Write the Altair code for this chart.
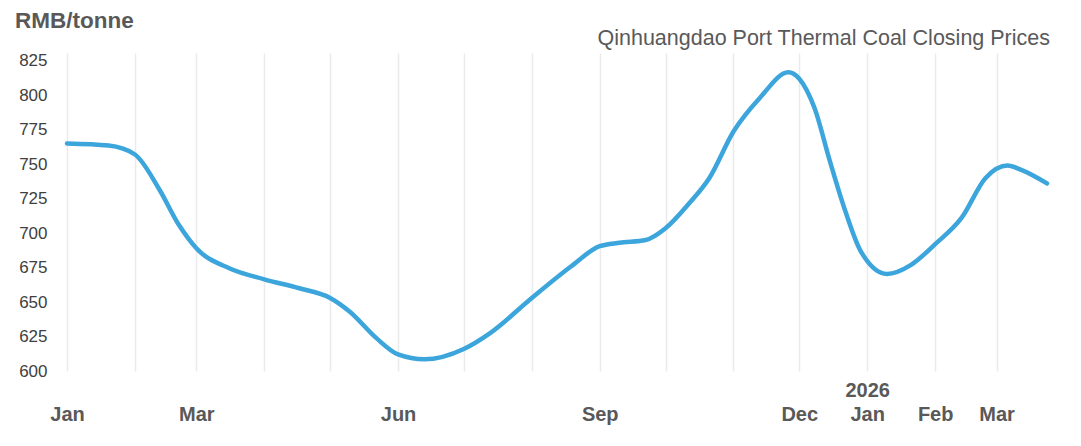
import altair as alt
import pandas as pd

# ---- data ----
dates = ["2025-01-01", "2025-01-20", "2025-02-01", "2025-02-12", "2025-02-21",
         "2025-03-01", "2025-03-16", "2025-04-01", "2025-04-17", "2025-05-01",
         "2025-05-10", "2025-05-22", "2025-06-01", "2025-06-13", "2025-07-01",
         "2025-07-13", "2025-08-01", "2025-08-19", "2025-09-01", "2025-09-10",
         "2025-09-22", "2025-10-01", "2025-10-12", "2025-10-21", "2025-11-01",
         "2025-11-13", "2025-11-26", "2025-12-01", "2025-12-08", "2025-12-15",
         "2025-12-22", "2025-12-29", "2026-01-10", "2026-01-21", "2026-02-01",
         "2026-02-13", "2026-02-24", "2026-03-06", "2026-03-12", "2026-03-24"]
prices = [765, 763.5, 757, 732, 706,
          689, 674.5, 666.5, 660, 653,
          643, 624, 612, 608.5, 616,
          627.5, 653, 676, 690.5, 693,
          695, 703.5, 722, 740, 773.7,
          798, 816.6, 812, 790.5, 752,
          716, 687, 670.4, 677, 692,
          711, 740, 749, 746, 736]

# month ticks (gridlines) and their labels
tick_years = [2025] * 12 + [2026] * 3
tick_months = list(range(1, 13)) + [1, 2, 3]
month_labels = ["Jan", "", "Mar", "", "", "Jun", "", "", "Sep", "", "", "Dec", "Jan", "Feb", "Mar"]
year_labels = [""] * 12 + ["2026", "", ""]
y_ticks = [600, 625, 650, 675, 700, 725, 750, 775, 800, 825]

unit_title = "RMB/tonne"
series_title = "Qinhuangdao Port Thermal Coal Closing Prices"

df = pd.DataFrame({"date": dates, "price": prices})

tick_ts = [int(pd.Timestamp(year=y, month=m, day=1, tz="UTC").timestamp() * 1000)
           for y, m in zip(tick_years, tick_months)]
label_arrays = ",".join("['%s','%s']" % (yl, ml) for yl, ml in zip(year_labels, month_labels))
label_expr = "[%s][indexof([%s], datum.value)]" % (label_arrays, ",".join(str(t) for t in tick_ts))

x_values = [alt.DateTime(year=y, month=m, date=1, utc=True) for y, m in zip(tick_years, tick_months)]

W, H = 980, 318

line = alt.Chart(df).mark_line(
    interpolate="monotone", strokeWidth=4.5, color="#3BA5DC", strokeCap="round"
).encode(
    x=alt.X("date:T",
            scale=alt.Scale(type="utc",
                            domain=[alt.DateTime(year=2025, month=1, date=1, utc=True),
                                    alt.DateTime(year=2026, month=3, date=24, utc=True)]),
            axis=alt.Axis(values=x_values, labelExpr=label_expr, title=None,
                          grid=True, gridColor="#ebebeb", gridWidth=1.5,
                          domain=False, ticks=False, tickSize=0,
                          labelFont="Liberation Sans", labelFontSize=20, labelFontWeight="bold",
                          labelColor="#595959", labelPadding=25, labelBaseline="alphabetic",
                          labelLineHeight=24, labelOverlap=False, labelFlush=False,
                          labelBound=False, labelAlign="center")),
    y=alt.Y("price:Q",
            scale=alt.Scale(domain=[600, 830.6], nice=False, zero=False),
            axis=alt.Axis(values=y_ticks, title=None, grid=False, domain=False,
                          ticks=False, tickSize=0, labelPadding=20,
                          labelFont="Liberation Sans", labelFontSize=17,
                          labelColor="#404040")),
)

ann = pd.DataFrame({"a": [0]})
title_txt = alt.Chart(ann).mark_text(
    align="left", baseline="alphabetic", font="Liberation Sans", fontSize=22.5,
    fontWeight="bold", color="#595959"
).encode(x=alt.value(-52), y=alt.value(-25), text=alt.value(unit_title))

series_txt = alt.Chart(ann).mark_text(
    align="right", baseline="alphabetic", font="Liberation Sans", fontSize=21.5,
    color="#595959"
).encode(x=alt.value(983), y=alt.value(-8), text=alt.value(series_title))

chart = alt.layer(line, title_txt, series_txt).properties(
    width=W, height=H,
    autosize=alt.AutoSizeParams(type="none"),
    padding={"left": 59, "top": 45, "right": 26, "bottom": 67},
    background="white",
).configure_view(stroke=None)

chart.save("out.html", embed_options={"renderer": "svg", "actions": False})
